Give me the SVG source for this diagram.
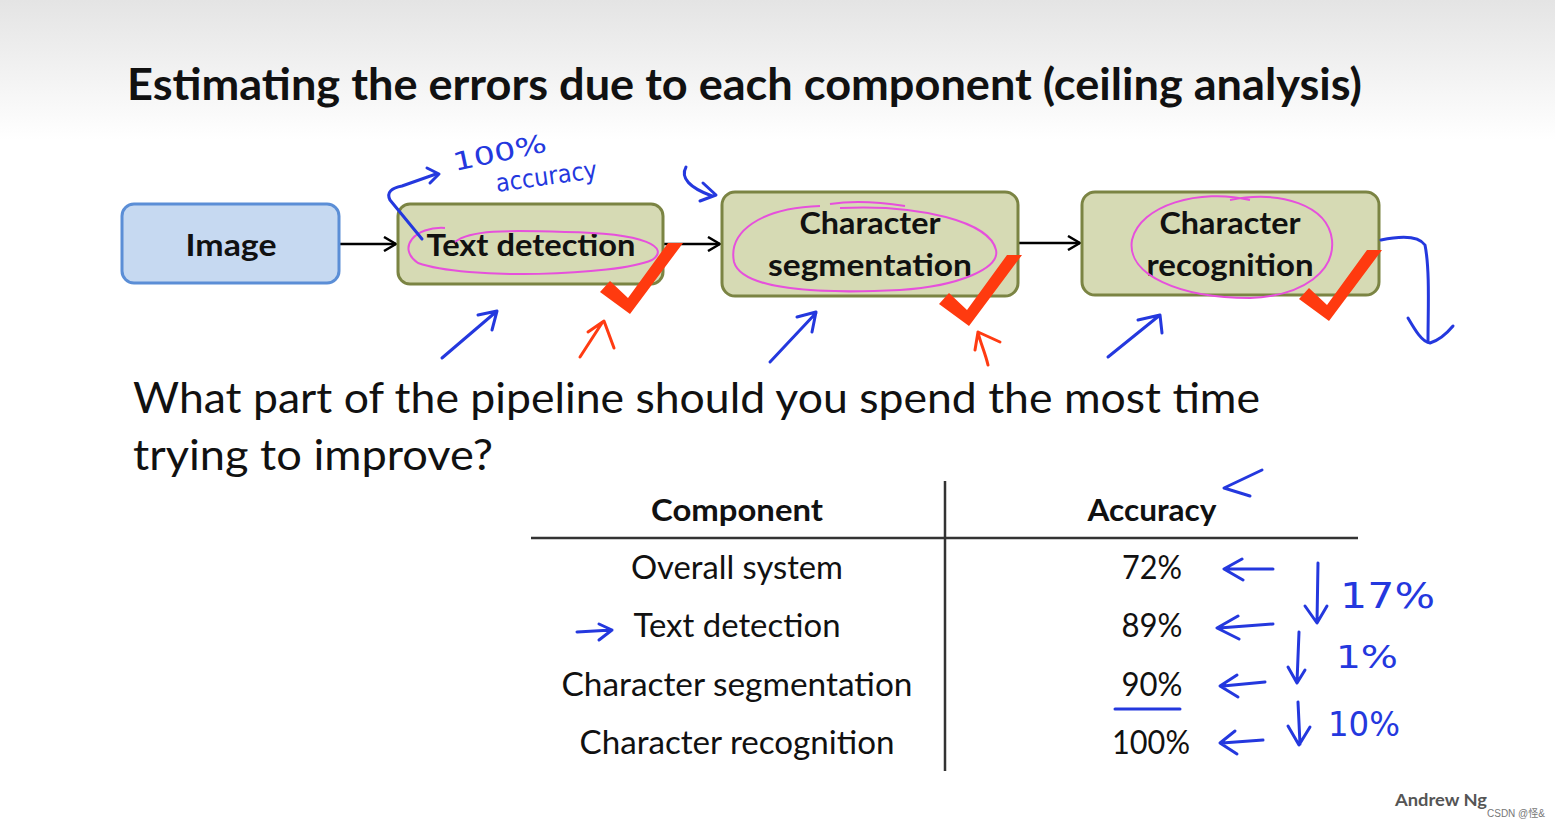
<svg xmlns="http://www.w3.org/2000/svg" width="1555" height="828" viewBox="0 0 1555 828">
<defs>
<linearGradient id="bg" x1="0" y1="0" x2="0" y2="1">
<stop offset="0" stop-color="#e4e4e4"/>
<stop offset="1" stop-color="#ffffff"/>
</linearGradient>
<marker id="chev" viewBox="0 0 14 16" refX="13" refY="8" markerWidth="14" markerHeight="16" markerUnits="userSpaceOnUse" orient="auto">
<path d="M1,1 L13,8 L1,15" fill="none" stroke="#000" stroke-width="2.5" stroke-linejoin="miter"/>
</marker>
<polygon id="check" points="-28,-18 -18,-29 0,-12 40,-67 55,-67 2,4"/>
<style>
.t{font-family:Lato,"Open Sans","Liberation Sans",sans-serif;fill:#111}
.b{font-weight:bold}
.nodeB{fill:#c6d9f1;stroke:#5b8ed6;stroke-width:3}
.nodeG{fill:#d6dab4;stroke:#7b8443;stroke-width:3}
.conn{stroke:#000;stroke-width:2.5;fill:none}
.pink{fill:none;stroke:#e650dc;stroke-width:2}
.blue{fill:none;stroke:#2438de;stroke-width:3;stroke-linecap:round;stroke-linejoin:round}
.red{fill:none;stroke:#ff3b12;stroke-width:3;stroke-linecap:round;stroke-linejoin:round}
.hand{font-family:"DejaVu Sans","Liberation Sans",sans-serif;fill:#2438de}
.chk{fill:#ff3a0f}
.rule{stroke:#333;stroke-width:2.5}
</style>
</defs>
<rect x="0" y="0" width="1555" height="140" fill="url(#bg)"/>
<rect x="0" y="140" width="1555" height="688" fill="#ffffff"/>

<text class="t b" x="127" y="100" font-size="44" textLength="1235" lengthAdjust="spacingAndGlyphs">Estimating the errors due to each component (ceiling analysis)</text>

<g id="connectors">
<line class="conn" x1="340" y1="244" x2="396" y2="244" marker-end="url(#chev)"/>
<line class="conn" x1="663" y1="244" x2="720" y2="244" marker-end="url(#chev)"/>
<line class="conn" x1="1018" y1="243" x2="1080" y2="243" marker-end="url(#chev)"/>
</g>

<g id="node-image">
<rect class="nodeB" x="122" y="204" width="217" height="79" rx="12"/>
<text class="t b" x="231" y="256" font-size="31" text-anchor="middle" textLength="91" lengthAdjust="spacingAndGlyphs">Image</text>
</g>
<g id="node-text-detection">
<rect class="nodeG" x="398" y="204" width="265" height="80" rx="12"/>
<text class="t b" x="531" y="256" font-size="31" text-anchor="middle" textLength="209" lengthAdjust="spacingAndGlyphs">Text detection</text>
</g>
<g id="node-character-segmentation">
<rect class="nodeG" x="722" y="192" width="296" height="104" rx="13"/>
<text class="t b" x="870" y="234" font-size="31" text-anchor="middle" textLength="141" lengthAdjust="spacingAndGlyphs">Character</text>
<text class="t b" x="870" y="276" font-size="31" text-anchor="middle" textLength="204" lengthAdjust="spacingAndGlyphs">segmentation</text>
</g>
<g id="node-character-recognition">
<rect class="nodeG" x="1082" y="192" width="297" height="103" rx="13"/>
<text class="t b" x="1230" y="234" font-size="31" text-anchor="middle" textLength="141" lengthAdjust="spacingAndGlyphs">Character</text>
<text class="t b" x="1230" y="276" font-size="31" text-anchor="middle" textLength="167" lengthAdjust="spacingAndGlyphs">recognition</text>
</g>

<g id="ink-pink">
<path class="pink" d="M445,228 C415,226 396,248 418,263 C465,280 615,276 652,260 C670,248 648,233 565,232 C505,230 470,230 455,242"/>
<path class="pink" d="M820,206 C760,208 728,232 734,262 C742,290 820,294 900,290 C960,286 1000,268 996,250 C990,222 920,204 840,208 M830,204 C855,200 880,202 905,206"/>
<path class="pink" d="M1250,200 C1200,188 1140,205 1132,240 C1126,275 1180,298 1250,298 C1305,296 1335,270 1332,240 C1328,205 1280,190 1230,200"/>
</g>

<g id="ink-checks">
<use href="#check" class="chk" transform="translate(628,310)"/>
<use href="#check" class="chk" transform="translate(967,322)"/>
<use href="#check" class="chk" transform="translate(1327,317)"/>
</g>

<g id="ink-blue-top">
<path class="blue" d="M422,239 L390,200 C386,192 392,188 402,186 L436,174"/>
<path class="blue" d="M427,168 L439,174 L430,183"/>
<text class="hand" x="455" y="171" font-size="25" transform="rotate(-12 455 171)" textLength="95" lengthAdjust="spacingAndGlyphs">100%</text>
<text class="hand" x="497" y="192" font-size="25" transform="rotate(-8 497 192)" textLength="102" lengthAdjust="spacingAndGlyphs">accuracy</text>
<path class="blue" d="M686,167 C680,178 690,188 712,196"/>
<path class="blue" d="M703,183 L716,195 L700,201"/>
<path class="blue" d="M442,358 L497,311 M478,315 L497,311 L492,330"/>
<path class="blue" d="M770,362 L816,313 M797,317 L816,312 L812,332"/>
<path class="blue" d="M1108,357 L1160,315 M1138,320 L1160,315 L1162,333"/>
<path class="blue" d="M1381,240 C1400,236 1418,235 1425,245 C1430,270 1428,310 1428,342"/>
<path class="blue" d="M1408,318 C1415,330 1422,342 1430,343 C1440,340 1448,332 1453,326"/>
</g>

<g id="ink-red">
<path class="red" d="M580,357 L602,323 M588,332 L604,321 L614,348"/>
<path class="red" d="M988,365 C985,352 980,342 978,332 M975,350 L978,332 L1000,342"/>
</g>

<text class="t" x="133" y="413" font-size="42" textLength="1127" lengthAdjust="spacingAndGlyphs">What part of the pipeline should you spend the most time</text>
<text class="t" x="133" y="470" font-size="42" textLength="360" lengthAdjust="spacingAndGlyphs">trying to improve?</text>

<g id="table">
<line class="rule" x1="945" y1="481" x2="945" y2="771"/>
<line class="rule" x1="531" y1="538" x2="1358" y2="538"/>
<text class="t b" x="737" y="521" font-size="31" text-anchor="middle" textLength="172" lengthAdjust="spacingAndGlyphs">Component</text>
<text class="t b" x="1152" y="521" font-size="31" text-anchor="middle" textLength="129" lengthAdjust="spacingAndGlyphs">Accuracy</text>
<text class="t" x="737" y="579" font-size="32" text-anchor="middle" textLength="212" lengthAdjust="spacingAndGlyphs">Overall system</text>
<text class="t" x="737" y="637" font-size="32" text-anchor="middle" textLength="207" lengthAdjust="spacingAndGlyphs">Text detection</text>
<text class="t" x="737" y="696" font-size="32" text-anchor="middle" textLength="351" lengthAdjust="spacingAndGlyphs">Character segmentation</text>
<text class="t" x="737" y="754" font-size="32" text-anchor="middle" textLength="315" lengthAdjust="spacingAndGlyphs">Character recognition</text>
<text class="t" x="1152" y="579" font-size="32" text-anchor="middle" textLength="60" lengthAdjust="spacingAndGlyphs">72%</text>
<text class="t" x="1152" y="637" font-size="32" text-anchor="middle" textLength="61" lengthAdjust="spacingAndGlyphs">89%</text>
<text class="t" x="1152" y="696" font-size="32" text-anchor="middle" textLength="61" lengthAdjust="spacingAndGlyphs">90%</text>
<text class="t" x="1151" y="754" font-size="32" text-anchor="middle" textLength="78" lengthAdjust="spacingAndGlyphs">100%</text>
</g>

<g id="ink-blue-table">
<path class="blue" d="M1262,470 L1224,488 L1250,496"/>
<path class="blue" d="M1273,569 L1228,569 M1242,559 L1224,569 L1243,580"/>
<path class="blue" d="M1273,624 L1219,628 M1238,616 L1217,628 L1239,639"/>
<path class="blue" d="M1265,682 L1223,686 M1237,675 L1220,686 L1238,697"/>
<path class="blue" d="M1263,740 L1222,743 M1235,731 L1220,743 L1237,754"/>
<path class="blue" d="M1318,563 L1317,622 M1305,606 L1317,623 L1327,606"/>
<path class="blue" d="M1299,632 L1297,682 M1288,667 L1297,683 L1305,670"/>
<path class="blue" d="M1298,702 L1300,744 M1288,726 L1299,745 L1310,727"/>
<path class="blue" d="M1115,709 L1180,709"/>
<path class="blue" d="M577,632 L612,630 M599,624 L612,630 L599,640"/>
<text class="hand" x="1340" y="608" font-size="36" textLength="95" lengthAdjust="spacingAndGlyphs">17%</text>
<text class="hand" x="1336" y="668" font-size="32" textLength="62" lengthAdjust="spacingAndGlyphs">1%</text>
<text class="hand" x="1328" y="736" font-size="34" textLength="72" lengthAdjust="spacingAndGlyphs">10%</text>
</g>

<text class="t b" x="1395" y="806" font-size="17" fill="#555" style="fill:#555" textLength="92" lengthAdjust="spacingAndGlyphs">Andrew Ng</text>
<text x="1487" y="817" font-size="10" style="font-family:'Liberation Sans','Noto Sans CJK SC',sans-serif;fill:#777">CSDN @怪&amp;</text>
</svg>
